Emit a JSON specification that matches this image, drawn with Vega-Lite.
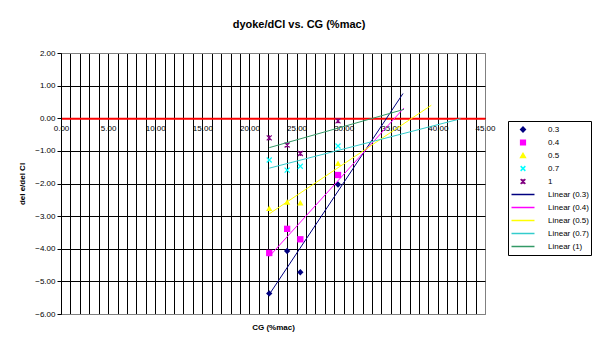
{
  "$schema": "https://vega.github.io/schema/vega-lite/v6.json",
  "width": 424,
  "height": 261,
  "autosize": {"type": "none"},
  "padding": {"left": 61, "top": 53, "right": 107, "bottom": 42},
  "background": "white",
  "title": {"text": "dyoke/dCl vs. CG (%mac)", "font": "Liberation Sans", "fontSize": 11, "fontWeight": "bold", "anchor": "middle", "dx": 26, "offset": 19, "color": "black"},
  "config": {
    "view": {"stroke": "#808080", "strokeWidth": 1},
    "axis": {"labelFont": "Liberation Sans", "titleFont": "Liberation Sans", "labelFontSize": 8, "titleFontSize": 8, "labelColor": "black", "titleColor": "black", "titleFontWeight": "bold", "gridOpacity": 1, "gridWidth": 1}
  },
  "data": {
    "values": [
      {"s": "0.3", "t": "Linear (0.3)", "x": 22.1, "y": -5.37},
      {"s": "0.3", "t": "Linear (0.3)", "x": 24.0, "y": -4.07},
      {"s": "0.3", "t": "Linear (0.3)", "x": 25.4, "y": -4.72},
      {"s": "0.3", "t": "Linear (0.3)", "x": 29.4, "y": -2.03},
      {"s": "0.4", "t": "Linear (0.4)", "x": 22.1, "y": -4.13},
      {"s": "0.4", "t": "Linear (0.4)", "x": 24.0, "y": -3.39},
      {"s": "0.4", "t": "Linear (0.4)", "x": 25.4, "y": -3.71},
      {"s": "0.4", "t": "Linear (0.4)", "x": 29.4, "y": -1.74},
      {"s": "0.5", "t": "Linear (0.5)", "x": 22.1, "y": -2.76},
      {"s": "0.5", "t": "Linear (0.5)", "x": 24.0, "y": -2.57},
      {"s": "0.5", "t": "Linear (0.5)", "x": 25.4, "y": -2.59},
      {"s": "0.5", "t": "Linear (0.5)", "x": 29.4, "y": -1.38},
      {"s": "0.7", "t": "Linear (0.7)", "x": 22.1, "y": -1.28},
      {"s": "0.7", "t": "Linear (0.7)", "x": 24.0, "y": -1.59},
      {"s": "0.7", "t": "Linear (0.7)", "x": 25.4, "y": -1.47},
      {"s": "0.7", "t": "Linear (0.7)", "x": 29.4, "y": -0.85},
      {"s": "1", "t": "Linear (1)", "x": 22.1, "y": -0.60},
      {"s": "1", "t": "Linear (1)", "x": 24.0, "y": -0.82},
      {"s": "1", "t": "Linear (1)", "x": 25.4, "y": -1.08},
      {"s": "1", "t": "Linear (1)", "x": 29.4, "y": -0.08}
    ]
  },
  "encoding": {
    "x": {
      "field": "x", "type": "quantitative",
      "scale": {"domain": [0, 45], "nice": false, "zero": false},
      "axis": {
        "orient": "bottom", "offset": -195.75,
        "values": [0,1,2,3,4,5,6,7,8,9,10,11,12,13,14,15,16,17,18,19,20,21,22,23,24,25,26,27,28,29,30,31,32,33,34,35,36,37,38,39,40,41,42,43,44,45],
        "labelExpr": "datum.value % 5 === 0 ? format(datum.value, '.2f') : ''",
        "labelOverlap": false, "labelFlush": false, "labelAngle": 0,
        "grid": true,
        "gridColor": {"condition": {"test": "datum.value === 45", "value": "#808080"}, "value": "black"},
        "ticks": false, "domainColor": "red", "domainWidth": 2,
        "labelPadding": 6,
        "title": "CG (%mac)", "titleY": 205, "titlePadding": 0
      }
    },
    "y": {
      "field": "y", "type": "quantitative",
      "scale": {"domain": [-6, 2], "nice": false, "zero": false},
      "axis": {
        "values": [-6,-5,-4,-3,-2,-1,0,1,2],
        "format": ".2f",
        "grid": true,
        "gridColor": {"condition": {"test": "datum.value === 2 || datum.value === -6", "value": "#808080"}, "value": "black"},
        "domainColor": "black", "tickColor": "black", "tickSize": 4, "labelPadding": 2,
        "title": "del e/del Cl", "titlePadding": 8
      }
    }
  },
  "layer": [
    {
      "transform": [{"filter": "datum.s === '0.3' || datum.s === '0.4' || datum.s === '0.5'"}],
      "mark": {"type": "point", "filled": true, "size": 40, "opacity": 1},
      "encoding": {
        "color": {
          "field": "s", "type": "nominal",
          "scale": {"domain": ["0.3","0.4","0.5","0.7","1","Linear (0.3)","Linear (0.4)","Linear (0.5)","Linear (0.7)","Linear (1)"],
                    "range": ["#000080","#FF00FF","#FFFF00","#00FFFF","#800080","#000080","#FF00FF","#FFFF00","#33CCCC","#339966"]},
          "legend": {
            "orient": "none", "legendX": 447, "legendY": 68, "title": null,
            "strokeColor": "black", "fillColor": "white", "padding": 2,
            "symbolSize": 22, "clipHeight": 13, "rowPadding": 0, "symbolOffset": 9, "labelOffset": 21,
            "labelFont": "Liberation Sans", "labelFontSize": 8, "labelColor": "black", "symbolStrokeWidth": 1.5,
            "encode": {"symbols": {
              "fill": {"value": {"expr": "scale('color', datum.value)"}},
              "stroke": {"value": {"expr": "scale('color', datum.value)"}},
              "opacity": {"value": 1}
            }}
          }
        },
        "shape": {
          "field": "s", "type": "nominal",
          "scale": {"domain": ["0.3","0.4","0.5","0.7","1","Linear (0.3)","Linear (0.4)","Linear (0.5)","Linear (0.7)","Linear (1)"],
                    "range": ["diamond","square","triangle-up","M-1,-1L1,1M-1,1L1,-1","M-1,-1L1,1M-1,1L1,-1M0,-1L0,1","M-4.9,0H4.9","M-4.9,0H4.9","M-4.9,0H4.9","M-4.9,0H4.9","M-4.9,0H4.9"]},
          "legend": {
            "orient": "none", "legendX": 447, "legendY": 68, "title": null,
            "strokeColor": "black", "fillColor": "white", "padding": 2,
            "symbolSize": 22, "clipHeight": 13, "rowPadding": 0, "symbolOffset": 9, "labelOffset": 21,
            "labelFont": "Liberation Sans", "labelFontSize": 8, "labelColor": "black", "symbolStrokeWidth": 1.5,
            "encode": {"symbols": {
              "fill": {"value": {"expr": "scale('color', datum.value)"}},
              "stroke": {"value": {"expr": "scale('color', datum.value)"}},
              "opacity": {"value": 1}
            }}
          }
        }
      }
    },
    {
      "transform": [{"filter": "datum.s === '0.7' || datum.s === '1'"}],
      "mark": {"type": "point", "filled": false, "size": 25, "strokeWidth": 1.2, "opacity": 1},
      "encoding": {
        "color": {"field": "s", "type": "nominal"},
        "shape": {"field": "s", "type": "nominal"}
      }
    },
    {
      "transform": [{"filter": "datum.s === '0.3'"}, {"regression": "y", "on": "x", "groupby": ["t"], "extent": [22.1, 36.3]}],
      "mark": {"type": "line", "strokeWidth": 1},
      "encoding": {"color": {"field": "t", "type": "nominal"}}
    },
    {
      "transform": [{"filter": "datum.s === '0.4'"}, {"regression": "y", "on": "x", "groupby": ["t"], "extent": [22.1, 36.4]}],
      "mark": {"type": "line", "strokeWidth": 1},
      "encoding": {"color": {"field": "t", "type": "nominal"}}
    },
    {
      "transform": [{"filter": "datum.s === '0.5'"}, {"regression": "y", "on": "x", "groupby": ["t"], "extent": [22.1, 39.3]}],
      "mark": {"type": "line", "strokeWidth": 1},
      "encoding": {"color": {"field": "t", "type": "nominal"}}
    },
    {
      "transform": [{"filter": "datum.s === '0.7'"}, {"regression": "y", "on": "x", "groupby": ["t"], "extent": [22.1, 42.4]}],
      "mark": {"type": "line", "strokeWidth": 1},
      "encoding": {"color": {"field": "t", "type": "nominal"}}
    },
    {
      "transform": [{"filter": "datum.s === '1'"}, {"regression": "y", "on": "x", "groupby": ["t"], "extent": [22.1, 36.4]}],
      "mark": {"type": "line", "strokeWidth": 1},
      "encoding": {"color": {"field": "t", "type": "nominal"}}
    }
  ]
}
